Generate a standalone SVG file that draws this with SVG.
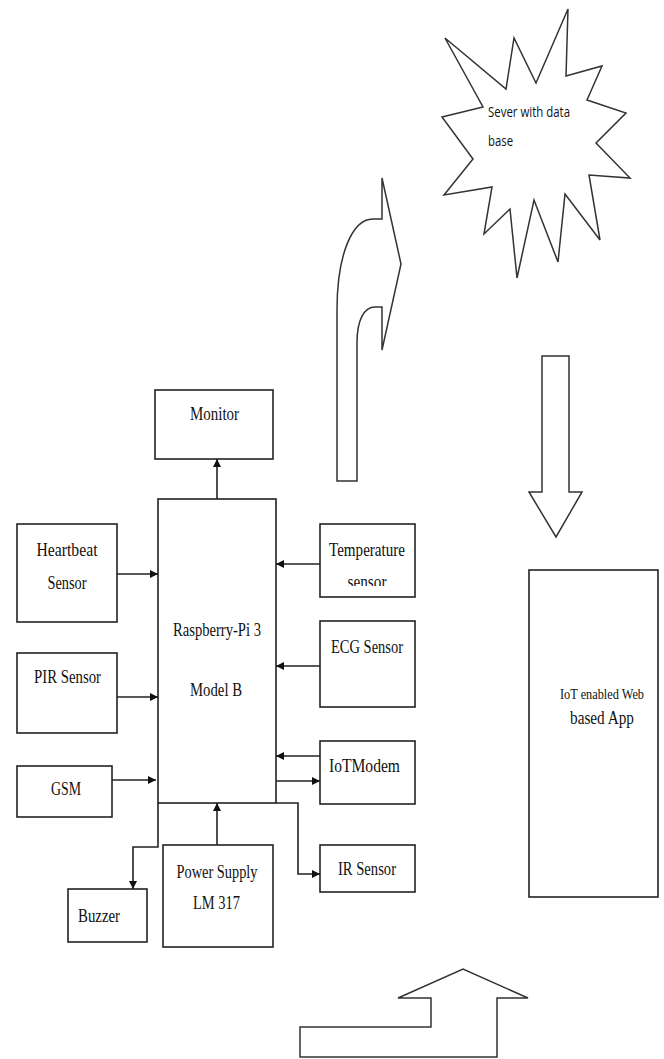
<svg xmlns="http://www.w3.org/2000/svg" width="664" height="1059" viewBox="0 0 664 1059">
<defs>
<style>
.box{fill:#fff;stroke:#222;stroke-width:1.6}
.shape{fill:#fff;stroke:#333;stroke-width:1.5;stroke-linejoin:miter}
.t{font-family:"Liberation Serif","Times New Roman",serif;font-size:18px;fill:#111;text-anchor:middle}
.s{font-family:"Open Sans","Liberation Sans",sans-serif;font-size:15px;fill:#111}
.c{fill:none;stroke:#222;stroke-width:1.6}
</style>
<marker id="ah" viewBox="0 0 10 10" refX="10" refY="5" markerWidth="9" markerHeight="8" markerUnits="userSpaceOnUse" orient="auto">
<path d="M0,0 L10,5 L0,10 Z" fill="#111"/>
</marker>
<clipPath id="tclip"><rect x="320" y="524" width="96" height="62"/></clipPath>
</defs>
<rect width="664" height="1059" fill="#fff"/>

<g id="server">
<polygon class="shape" points="445,38 506,89 514,38 536,83 568,9 566,76 602,66 587,100 626,113 596,143 630,178 589,175 600,240 565,194 558,262 534,200 517,278 510,209 484,234 492,187 444,195 473,159 442,117 483,107"/>
<text class="s" x="488" y="117" textLength="82" lengthAdjust="spacingAndGlyphs">Sever with data</text>
<text class="s" x="488" y="146" textLength="25" lengthAdjust="spacingAndGlyphs">base</text>
</g>

<g id="upload-arrow">
<path class="shape" d="M337,481 L337,310 C337,255 352,219 373,219 L382,219 L382,178 L401,264 L382,350 L382,307 L375,307 C364,307 357,320 357,343 L357,481 Z"/>
</g>

<g id="download-arrow">
<polygon class="shape" points="542,356 569,356 569,492 582,492 556,537 529,492 542,492"/>
</g>

<g id="bottom-arrow">
<polygon class="shape" points="300,1027 431,1027 431,998 398,998 463,969 528,998 497,998 497,1057 300,1057"/>
</g>

<g id="monitor">
<rect class="box" x="155" y="390" width="118" height="69"/>
<text class="t" x="214.5" y="420" textLength="49" lengthAdjust="spacingAndGlyphs">Monitor</text>
</g>

<g id="raspberry">
<rect class="box" x="158" y="499" width="118" height="304"/>
<text class="t" x="217" y="636" textLength="88" lengthAdjust="spacingAndGlyphs">Raspberry-Pi 3</text>
<text class="t" x="216" y="696" textLength="52" lengthAdjust="spacingAndGlyphs">Model B</text>
</g>

<g id="heartbeat">
<rect class="box" x="17" y="524" width="100" height="98"/>
<text class="t" x="67" y="556" textLength="61" lengthAdjust="spacingAndGlyphs">Heartbeat</text>
<text class="t" x="67" y="589" textLength="39" lengthAdjust="spacingAndGlyphs">Sensor</text>
</g>

<g id="pir">
<rect class="box" x="17" y="653" width="100" height="80"/>
<text class="t" x="67.5" y="683" textLength="67" lengthAdjust="spacingAndGlyphs">PIR Sensor</text>
</g>

<g id="gsm">
<rect class="box" x="17" y="766" width="95" height="51"/>
<text class="t" x="66" y="795" textLength="30" lengthAdjust="spacingAndGlyphs">GSM</text>
</g>

<g id="temperature">
<rect class="box" x="320" y="524" width="95" height="73"/>
<text class="t" x="367" y="556" textLength="76" lengthAdjust="spacingAndGlyphs">Temperature</text>
<text class="t" x="367" y="588" textLength="39" lengthAdjust="spacingAndGlyphs" clip-path="url(#tclip)">sensor</text>
</g>

<g id="ecg">
<rect class="box" x="320" y="621" width="95" height="86"/>
<text class="t" x="367" y="653" textLength="72" lengthAdjust="spacingAndGlyphs">ECG Sensor</text>
</g>

<g id="iotmodem">
<rect class="box" x="320" y="741" width="95" height="63"/>
<text class="t" x="364.5" y="772" textLength="71" lengthAdjust="spacingAndGlyphs">IoTModem</text>
</g>

<g id="ir">
<rect class="box" x="320" y="845" width="95" height="47"/>
<text class="t" x="367" y="875" textLength="58" lengthAdjust="spacingAndGlyphs">IR Sensor</text>
</g>

<g id="buzzer">
<rect class="box" x="68" y="889" width="79" height="53"/>
<text class="t" x="99" y="922" textLength="42" lengthAdjust="spacingAndGlyphs">Buzzer</text>
</g>

<g id="power">
<rect class="box" x="163" y="845" width="110" height="102"/>
<text class="t" x="217" y="878" textLength="81" lengthAdjust="spacingAndGlyphs">Power Supply</text>
<text class="t" x="216.5" y="909" textLength="47" lengthAdjust="spacingAndGlyphs">LM 317</text>
</g>

<g id="webapp">
<rect class="box" x="529" y="570" width="129" height="327"/>
<text class="t" x="602" y="699" textLength="84" lengthAdjust="spacingAndGlyphs" style="font-size:15px">IoT enabled Web</text>
<text class="t" x="602" y="724" textLength="64" lengthAdjust="spacingAndGlyphs">based App</text>
</g>

<g id="connectors">
<path class="c" d="M217,499 L217,459" marker-end="url(#ah)"/>
<path class="c" d="M117,574 L158,574" marker-end="url(#ah)"/>
<path class="c" d="M117,697 L158,697" marker-end="url(#ah)"/>
<path class="c" d="M112,780 L156,780" marker-end="url(#ah)"/>
<path class="c" d="M320,564 L276,564" marker-end="url(#ah)"/>
<path class="c" d="M320,666 L276,666" marker-end="url(#ah)"/>
<path class="c" d="M320,756 L276,756" marker-end="url(#ah)"/>
<path class="c" d="M276,781 L320,781" marker-end="url(#ah)"/>
<path class="c" d="M276,803 L298,803 L298,874 L320,874" marker-end="url(#ah)"/>
<path class="c" d="M158,803 L158,847 L133,847 L133,889" marker-end="url(#ah)"/>
<path class="c" d="M217,845 L217,803" marker-end="url(#ah)"/>
</g>
</svg>
